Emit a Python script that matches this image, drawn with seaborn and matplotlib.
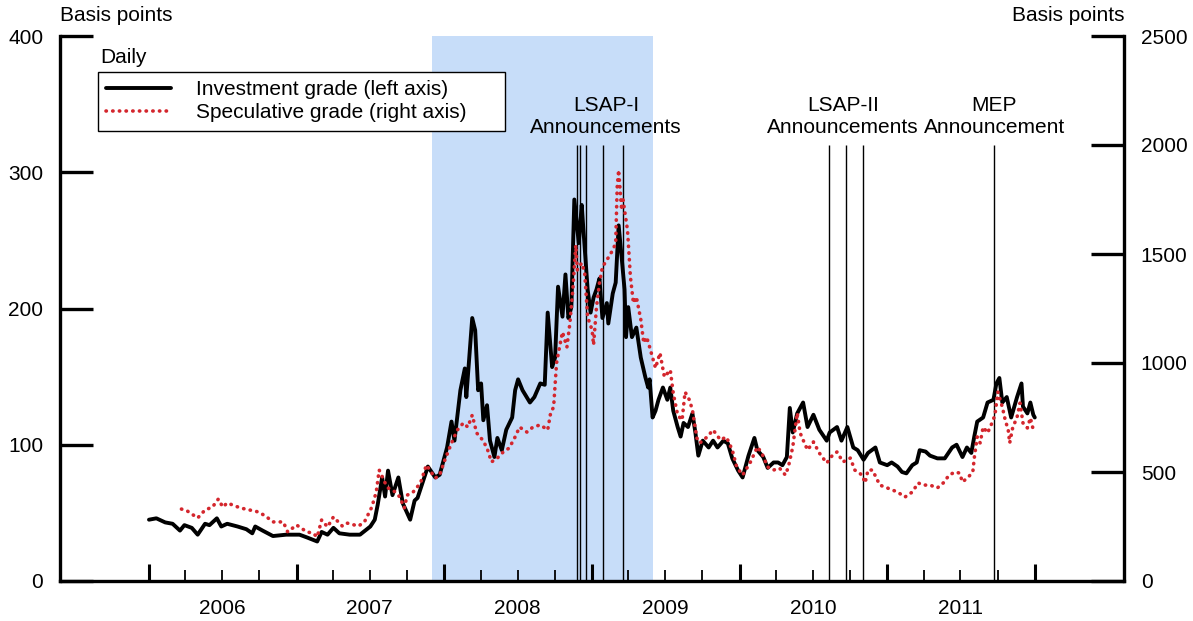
import pandas as pd
import numpy as np
import matplotlib
matplotlib.use("Agg")
import matplotlib.pyplot as plt
import seaborn as sns

# -------------------------------------------------
# Data (time in decimal years)
# -------------------------------------------------
ig_t = [2006.00, 2006.05, 2006.11, 2006.16, 2006.21, 2006.24, 2006.29, 2006.33, 2006.38, 2006.41,
        2006.46, 2006.49, 2006.53, 2006.60, 2006.66, 2006.70, 2006.72, 2006.77, 2006.84, 2006.93,
        2007.02, 2007.07, 2007.14, 2007.17, 2007.21, 2007.25, 2007.29, 2007.36, 2007.43, 2007.50,
        2007.53, 2007.55, 2007.58, 2007.60, 2007.62, 2007.65, 2007.69, 2007.72, 2007.77, 2007.80,
        2007.82, 2007.86, 2007.89, 2007.94, 2007.97,
        2008.02, 2008.05, 2008.07, 2008.11, 2008.14, 2008.15, 2008.17, 2008.19, 2008.21, 2008.23,
        2008.25, 2008.265, 2008.29, 2008.31, 2008.34, 2008.36, 2008.39, 2008.42, 2008.46, 2008.48,
        2008.50, 2008.53, 2008.58, 2008.61, 2008.65, 2008.68, 2008.70, 2008.73, 2008.75, 2008.77,
        2008.80, 2008.82, 2008.84, 2008.86, 2008.88, 2008.91, 2008.93, 2008.94, 2008.97, 2008.99,
        2009.01, 2009.03, 2009.05, 2009.07, 2009.10, 2009.11, 2009.14, 2009.16, 2009.18, 2009.20,
        2009.22, 2009.23, 2009.245, 2009.27, 2009.30, 2009.33, 2009.36, 2009.38, 2009.39, 2009.41,
        2009.43, 2009.45, 2009.48, 2009.51, 2009.53, 2009.55, 2009.58, 2009.60, 2009.62, 2009.65,
        2009.68, 2009.70, 2009.72, 2009.75, 2009.79, 2009.82, 2009.85, 2009.89, 2009.92, 2009.95,
        2009.99,
        2010.02, 2010.06, 2010.10, 2010.12, 2010.16, 2010.19, 2010.23, 2010.26, 2010.29, 2010.32,
        2010.34, 2010.36, 2010.39, 2010.43, 2010.46, 2010.50, 2010.54, 2010.59, 2010.61, 2010.66,
        2010.69, 2010.73, 2010.77, 2010.80, 2010.84, 2010.87, 2010.92, 2010.95,
        2011.00, 2011.03, 2011.07, 2011.10, 2011.13, 2011.17, 2011.20, 2011.22, 2011.26, 2011.29,
        2011.34, 2011.39, 2011.44, 2011.47, 2011.51, 2011.54, 2011.57, 2011.59, 2011.61, 2011.65,
        2011.68, 2011.72, 2011.74, 2011.76, 2011.78, 2011.81, 2011.84, 2011.88, 2011.91, 2011.92,
        2011.95, 2011.97, 2011.99, 2012.00]
ig_bp = [45, 46, 43, 42, 37, 41, 39, 34, 42, 41, 46, 40, 42, 40, 38, 35, 40, 37, 33, 34,
         34, 32, 29, 36, 34, 39, 35, 34, 34, 40, 45, 56, 76, 62, 81, 63, 76, 57, 45, 59,
         61, 74, 84, 76, 78,
         98, 117, 103, 140, 156, 135, 164, 193, 184, 140, 145, 118, 129, 103, 91, 105, 96, 111, 120, 140,
         148, 140, 131, 135, 145, 144, 197, 157, 164, 216, 194, 225, 193, 201, 280, 248, 276, 260, 214, 197,
         208, 214, 222, 193, 204, 189, 211, 219, 261, 238, 214, 179, 201, 179, 186, 164, 150, 142, 148, 120,
         125, 133, 142, 133, 142, 125, 113, 106, 116, 113, 123, 109, 92, 103, 98, 103, 98, 103, 101, 90,
         81,
         76, 92, 105, 96, 91, 83, 87, 87, 85, 91, 127, 109, 123, 131, 113, 122, 111, 103, 109, 113,
         103, 113, 98, 96, 89, 94, 98, 87,
         85, 87, 84, 80, 79, 85, 87, 96, 95, 92, 90, 90, 98, 100, 91, 98, 94, 106, 117, 120,
         131, 133, 145, 149, 131, 135, 120, 135, 145, 128, 123, 131, 122, 120]

sg_t = [2006.22, 2006.26, 2006.30, 2006.33, 2006.38, 2006.43, 2006.47, 2006.50, 2006.53, 2006.62,
        2006.68, 2006.74, 2006.79, 2006.84, 2006.91, 2006.94,
        2007.00, 2007.07, 2007.11, 2007.14, 2007.17, 2007.21, 2007.25, 2007.31, 2007.34, 2007.42,
        2007.46, 2007.51, 2007.54, 2007.56, 2007.60, 2007.62, 2007.67, 2007.70, 2007.73, 2007.75,
        2007.79, 2007.84, 2007.88, 2007.94, 2007.97,
        2008.00, 2008.05, 2008.09, 2008.13, 2008.16, 2008.19, 2008.22, 2008.26, 2008.29, 2008.32,
        2008.36, 2008.40, 2008.44, 2008.48, 2008.51, 2008.56, 2008.60, 2008.65, 2008.70, 2008.72,
        2008.74, 2008.76, 2008.78, 2008.80, 2008.83, 2008.85, 2008.87, 2008.89, 2008.90, 2008.93,
        2008.95, 2008.97,
        2009.00, 2009.01, 2009.03, 2009.05, 2009.07, 2009.10, 2009.14, 2009.16, 2009.17, 2009.18,
        2009.20, 2009.21, 2009.24, 2009.26, 2009.28, 2009.30, 2009.33, 2009.35, 2009.37, 2009.39,
        2009.43, 2009.46, 2009.49, 2009.53, 2009.55, 2009.58, 2009.61, 2009.63, 2009.66, 2009.68,
        2009.71, 2009.73, 2009.78, 2009.82, 2009.87, 2009.91, 2009.95, 2009.98,
        2010.02, 2010.07, 2010.12, 2010.15, 2010.19, 2010.23, 2010.27, 2010.31, 2010.33, 2010.36,
        2010.39, 2010.41, 2010.43, 2010.46, 2010.50, 2010.54, 2010.59, 2010.63, 2010.66, 2010.70,
        2010.75, 2010.78, 2010.83, 2010.85, 2010.87, 2010.90, 2010.95,
        2011.00, 2011.07, 2011.12, 2011.17, 2011.21, 2011.24, 2011.29, 2011.34, 2011.38, 2011.42,
        2011.46, 2011.49, 2011.51, 2011.55, 2011.58, 2011.59, 2011.61, 2011.63, 2011.65, 2011.68,
        2011.71, 2011.73, 2011.75, 2011.78, 2011.80, 2011.82, 2011.83, 2011.85, 2011.88, 2011.90,
        2011.92, 2011.95, 2011.97, 2011.99, 2012.00]
sg_bp = [330, 321, 303, 289, 326, 339, 376, 339, 358, 335, 326, 317, 298, 271, 271, 225,
         257, 225, 220, 202, 280, 248, 294, 252, 266, 252, 271, 339, 408, 509, 450, 427, 408, 385, 335, 394,
         408, 450, 532, 472, 486,
         546, 633, 693, 725, 706, 761, 679, 647, 610, 546, 564, 592, 610, 661, 706, 683, 706, 716, 693, 771,
         798, 1000, 1073, 1142, 1073, 1183, 1335, 1541, 1427, 1459, 1413, 1211,
         1151, 1083, 1257, 1367, 1440, 1472, 1518, 1550, 1807, 1885, 1702, 1748, 1610, 1394, 1275, 1303,
         1200, 1092, 1119, 1073, 977, 1046, 936, 968, 862, 761, 738, 867, 830, 784, 656, 633, 661, 693,
         647, 661, 601, 523,
         486, 541, 615, 587, 523, 509, 518, 486, 523, 615, 771, 679, 647, 601, 638, 587, 541, 578, 592, 546,
         564, 509, 486, 450, 509, 509, 440,
         427, 408, 385, 408, 450, 440, 440, 427, 450, 486, 500, 495, 454, 477, 500, 564, 661, 633, 706, 679,
         725, 761, 867, 798, 738, 693, 633, 702, 752, 816, 725, 702, 748, 693, 679]

lsap1_dates = ["2008-11-25", "2008-12-01", "2008-12-16", "2009-01-28", "2009-03-18"]
lsap2_dates = ["2010-08-10", "2010-09-21", "2010-11-03"]
mep_dates = ["2011-09-21"]
recession = ("2007-12-01", "2009-06-01")
years = list(range(2006, 2012))


def dec_to_date(t):
    y = int(np.floor(t))
    start = pd.Timestamp(year=y, month=1, day=1)
    end = pd.Timestamp(year=y + 1, month=1, day=1)
    return start + (end - start) * (t - y)


ig = pd.DataFrame({"date": [dec_to_date(t) for t in ig_t], "bp": ig_bp})
sg = pd.DataFrame({"date": [dec_to_date(t) for t in sg_t], "bp": sg_bp})

# -------------------------------------------------
# Style
# -------------------------------------------------
sns.set_style("ticks")
plt.rcParams["font.family"] = ["Liberation Sans", "DejaVu Sans"]
for k in ("text.color", "axes.labelcolor", "xtick.color", "ytick.color", "axes.edgecolor"):
    plt.rcParams[k] = "black"
FS = 15

fig = plt.figure(figsize=(11.93, 6.21), dpi=100)
ax = fig.add_axes([60 / 1193, 40 / 621, 1064 / 1193, 545 / 621])
ax2 = ax.twinx()

ax.axvspan(pd.Timestamp(recession[0]), pd.Timestamp(recession[1]), color="#c7ddf9", lw=0, zorder=0)

sns.lineplot(data=ig, x="date", y="bp", ax=ax, color="black", lw=2.8,
             label="Investment grade (left axis)", legend=False)
sns.lineplot(data=sg, x="date", y="bp", ax=ax2, color="#d4262d", lw=2.6,
             linestyle=(0, (0.1, 1.75)), dash_capstyle="round",
             label="Speculative grade (right axis)", legend=False)

# announcement lines
for d in lsap1_dates + lsap2_dates + mep_dates:
    ax.vlines(pd.Timestamp(d), 0, 320, color="black", lw=1.0, zorder=5)

ax.text(0.513, 0.853, "LSAP-I\nAnnouncements", transform=ax.transAxes, ha="center", va="center",
        fontsize=FS, linespacing=1.2)
ax.text(0.736, 0.853, "LSAP-II\nAnnouncements", transform=ax.transAxes, ha="center", va="center",
        fontsize=FS, linespacing=1.2)
ax.text(0.878, 0.853, "MEP\nAnnouncement", transform=ax.transAxes, ha="center", va="center",
        fontsize=FS, linespacing=1.2)

# axes limits
ax.set_xlim(dec_to_date(2005.397), dec_to_date(2012.603))
ax.set_ylim(0, 400)
ax2.set_ylim(0, 2500)
ax.set_yticks([0, 100, 200, 300, 400])
ax2.set_yticks([0, 500, 1000, 1500, 2000, 2500])
ax.set_xlabel("")
ax.set_ylabel("")
ax2.set_ylabel("")

major = [pd.Timestamp(year=y, month=1, day=1) for y in years + [2012]]
minor = [pd.Timestamp(year=y, month=m, day=1) for y in years for m in (4, 7, 10)]
ax.set_xticks(major)
ax.set_xticklabels([""] * len(major))
ax.set_xticks(minor, minor=True)
ax.set_xticklabels([str(d.year) if d.month == 7 else "" for d in minor], minor=True)

ax.tick_params(axis="x", which="major", direction="in", length=12, width=2.2, labelsize=FS, pad=13)
ax.tick_params(axis="x", which="minor", direction="in", length=8, width=1.3, labelsize=FS, pad=13)
ax.tick_params(axis="y", direction="in", length=24, width=2.4, labelsize=FS, pad=12)
ax2.tick_params(axis="y", direction="in", length=24, width=2.4, labelsize=FS, pad=12)

for a in (ax, ax2):
    a.spines["top"].set_visible(False)
    for s in ("left", "right", "bottom"):
        a.spines[s].set_linewidth(2.4)
        a.spines[s].set_color("black")
ax.spines["right"].set_visible(False)
ax2.spines["left"].set_visible(False)
ax2.spines["bottom"].set_visible(False)

ax.text(0.0, 1.037, "Basis points", transform=ax.transAxes, ha="left", va="center", fontsize=FS)
ax2.text(1.0, 1.037, "Basis points", transform=ax2.transAxes, ha="right", va="center", fontsize=FS)
ax.text(0.0376, 0.96, "Daily", transform=ax.transAxes, ha="left", va="center", fontsize=FS)

h1 = ax.get_lines()[0]
h2 = ax2.get_lines()[0]
leg = ax2.legend([h1, h2], [h1.get_label(), h2.get_label()], loc="upper left",
                 bbox_to_anchor=(0.0357, 0.934 - 0.103, 0.3825, 0.103), mode="expand",
                 fontsize=FS, frameon=True, fancybox=False,
                 edgecolor="black", framealpha=1, borderpad=0.4, labelspacing=0.2,
                 handlelength=3.1, handletextpad=1.2, borderaxespad=0)
leg.get_frame().set_linewidth(1.0)

fig.savefig("out.png", dpi=100)
